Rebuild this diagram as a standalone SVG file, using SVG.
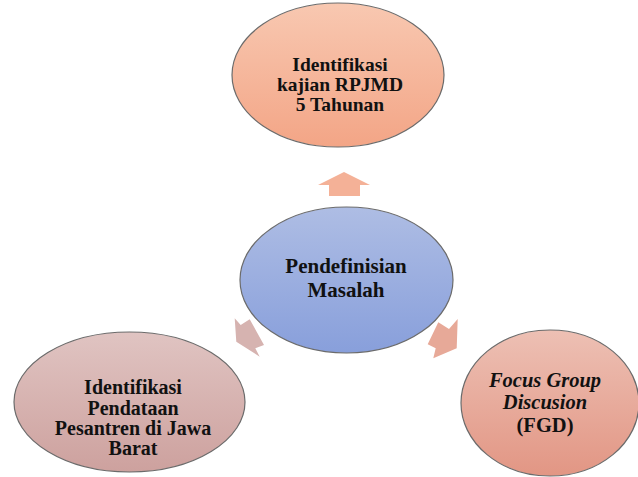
<svg xmlns="http://www.w3.org/2000/svg" width="638" height="477" viewBox="0 0 638 477">
<defs>
<linearGradient id="gBlue" x1="0" y1="0" x2="0" y2="1"><stop offset="0" stop-color="#aebde4"/><stop offset="1" stop-color="#889fdb"/></linearGradient>
<linearGradient id="gPeach" x1="0" y1="0" x2="0" y2="1"><stop offset="0" stop-color="#f8c8b1"/><stop offset="1" stop-color="#f3a586"/></linearGradient>
<linearGradient id="gMauve" x1="0" y1="0" x2="0" y2="1"><stop offset="0" stop-color="#e0c4c2"/><stop offset="1" stop-color="#cda19e"/></linearGradient>
<linearGradient id="gRose" x1="0" y1="0" x2="0" y2="1"><stop offset="0" stop-color="#edc0b4"/><stop offset="1" stop-color="#e29684"/></linearGradient>
<style>
.node{stroke:#6b6b6b;stroke-width:1.2}
.t{font-family:"Liberation Serif","Times New Roman",serif;font-weight:bold;fill:#111;text-anchor:middle}
.arr{stroke:none}
</style>
</defs>
<g id="connectors">
<polygon class="arr" fill="#f4b197" points="344,172 370,185 360,185 360,196 329,196 329,185 318,185"/>
<polygon class="arr" fill="#d6b3b0" points="234.7,318.3 240.7,325 249.7,319.3 264,345 255.3,348.3 259.7,356.7 236.3,341.7"/>
<polygon class="arr" fill="#e7a998" points="457.7,319 449,329 438.3,322.3 427.7,344.3 435.7,348.3 433.3,358.3 456.7,348.3"/>
</g>
<g id="node-top">
<ellipse class="node" cx="338" cy="75" rx="106" ry="72" fill="url(#gPeach)"/>
<text class="t" font-size="19.5" x="340" y="70.5">Identifikasi</text>
<text class="t" font-size="19.5" x="340" y="90.5">kajian RPJMD</text>
<text class="t" font-size="19.5" x="340" y="110.5">5 Tahunan</text>
</g>
<g id="node-center">
<ellipse class="node" cx="346.5" cy="280" rx="106.5" ry="73" fill="url(#gBlue)"/>
<text class="t" font-size="21" x="346" y="273.3">Pendefinisian</text>
<text class="t" font-size="21" x="346" y="296.8">Masalah</text>
</g>
<g id="node-left">
<ellipse class="node" cx="129.5" cy="402" rx="115.5" ry="70" fill="url(#gMauve)"/>
<text class="t" font-size="20" x="133" y="394.3">Identifikasi</text>
<text class="t" font-size="20" x="133" y="414.7">Pendataan</text>
<text class="t" font-size="20" x="133" y="435">Pesantren di Jawa</text>
<text class="t" font-size="20" x="133" y="455.3">Barat</text>
</g>
<g id="node-right">
<ellipse class="node" cx="550" cy="403" rx="89" ry="73" fill="url(#gRose)"/>
<text class="t" font-size="20.5" font-style="italic" x="545" y="387">Focus Group</text>
<text class="t" font-size="20.5" font-style="italic" x="545" y="408.5">Discusion</text>
<text class="t" font-size="20.5" x="545" y="432">(FGD)</text>
</g>
</svg>
